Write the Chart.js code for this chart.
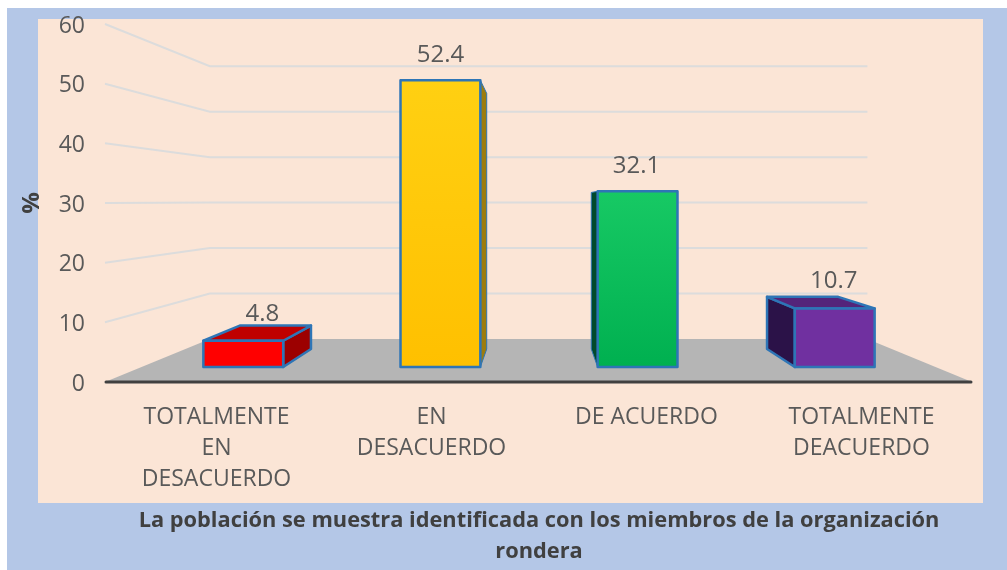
<!DOCTYPE html>
<html>
<head>
<meta charset="utf-8">
<style>
  html, body { margin: 0; padding: 0; background: #fff; }
  #wrap { width: 1007px; height: 570px; }
</style>
</head>
<body>
<div id="wrap"><canvas id="chart" width="1007" height="570"></canvas></div>
<script src="https://cdn.jsdelivr.net/npm/chart.js@4"></script>
<script>
const categories = [['TOTALMENTE', 'EN', 'DESACUERDO'], ['EN', 'DESACUERDO'], 'DE ACUERDO', ['TOTALMENTE', 'DEACUERDO']];
const values = [4.8, 52.4, 32.1, 10.7];
const valueText = ['4.8', '52.4', '32.1', '10.7'];
const yMax = 60;
const yStep = 10;
const yTitle = '%';
const caption = ['La población se muestra identificada con los miembros de la organización', 'rondera'];

// face colours per bar
const frontTop = ['#ff0000', '#ffd012', '#17c964', '#7030a0'];
const frontBottom = ['#ff0000', '#ffc000', '#00b050', '#7030a0'];
const sideColors = ['#9c0000', '#9c7c0e', '#004a2c', '#2b1248'];
const topColors = ['#bf0000', '#bf9000', '#00843c', '#54247a'];
const sideBorder = [2.5, 1, 1, 2.5];
const labelNudge = [[19, -1], [0, 1], [-1, 1], [-1, -1]];

// perspective of the fake 3D box
const RISE = 43;      // floor height on screen, front to back
const SHRINK = 0.238; // how much things shrink at the back wall
const BAR_NEAR = 0.349;
const BAR_FAR = 0.767;

const box3d = {
    id: 'box3d',
    beforeDraw(chart) {
        const c = chart.ctx;
        c.save();
        c.fillStyle = '#fff';
        c.fillRect(0, 0, 1007, 570);
        c.fillStyle = '#b4c7e7';
        c.fillRect(7, 8, 1000, 562);
        c.fillStyle = '#fbe5d6';
        c.fillRect(38, 19, 945, 484);
        c.restore();
    },
    beforeDatasetsDraw(chart) {
        const c = chart.ctx, area = chart.chartArea, y = chart.scales.y;
        const cx = (area.left + area.right) / 2;
        const y0 = y.getPixelForValue(0);
        const px = (x, t) => cx + (x - cx) * (1 - SHRINK * t);
        const py = (v, t) => y0 - RISE * t - (y0 - y.getPixelForValue(v)) * (1 - SHRINK * t);

        // walls
        c.save();
        c.strokeStyle = '#dcdcdc';
        c.lineWidth = 2;
        y.ticks.forEach(function (tick) {
            if (tick.value === 0) return;
            c.beginPath();
            c.moveTo(area.left - 4, y.getPixelForValue(tick.value));
            c.lineTo(px(area.left - 2, 1), py(tick.value, 1));
            c.lineTo(px(area.right + 1, 1), py(tick.value, 1));
            c.stroke();
        });

        // floor
        c.fillStyle = '#b5b5b5';
        c.beginPath();
        c.moveTo(area.left - 4, y0);
        c.lineTo(px(area.left - 2, 1), py(0, 1));
        c.lineTo(px(area.right + 1, 1), py(0, 1));
        c.lineTo(area.right + 3, y0);
        c.closePath();
        c.fill();

        // axis line
        c.strokeStyle = '#404040';
        c.lineWidth = 3;
        c.lineCap = 'round';
        c.beginPath();
        c.moveTo(area.left - 3, y0);
        c.lineTo(area.right + 2, y0);
        c.stroke();
        c.restore();
    },
    afterDatasetsDraw(chart) {
        const c = chart.ctx, area = chart.chartArea, y = chart.scales.y;
        const cx = (area.left + area.right) / 2;
        const y0 = y.getPixelForValue(0);
        const px = (x, t) => cx + (x - cx) * (1 - SHRINK * t);
        const py = (yPix, t) => y0 - RISE * t - (y0 - yPix) * (1 - SHRINK * t);

        function face(points, fill, width) {
            c.beginPath();
            points.forEach(function (p, i) {
                if (i === 0) c.moveTo(p[0], p[1]);
                else c.lineTo(p[0], p[1]);
            });
            c.closePath();
            c.fillStyle = fill;
            c.fill();
            c.lineWidth = width;
            c.stroke();
        }

        c.save();
        c.strokeStyle = '#2e75b6';
        c.lineJoin = 'round';
        chart.getDatasetMeta(0).data.forEach(function (bar, i) {
            const l = bar.x - bar.width / 2, r = bar.x + bar.width / 2, h = bar.y;

            const nl = px(l, BAR_NEAR), nr = px(r, BAR_NEAR);
            const fl = px(l, BAR_FAR), fr = px(r, BAR_FAR);
            const nTop = py(h, BAR_NEAR), nBase = py(y0, BAR_NEAR);
            const fTop = py(h, BAR_FAR), fBase = py(y0, BAR_FAR);

            // side that faces the vanishing point
            if (bar.x < cx) {
                face([[nr, nTop], [fr, fTop], [fr, fBase], [nr, nBase]], sideColors[i], sideBorder[i]);
            } else {
                face([[nl, nTop], [fl, fTop], [fl, fBase], [nl, nBase]], sideColors[i], sideBorder[i]);
            }
            // top shows only when the back edge is above the front one
            if (fTop < nTop) {
                face([[nl, nTop], [fl, fTop], [fr, fTop], [nr, nTop]], topColors[i], 2.5);
            }
            const grad = c.createLinearGradient(0, nTop, 0, nBase);
            grad.addColorStop(0, frontTop[i]);
            grad.addColorStop(1, frontBottom[i]);
            face([[nl, nTop], [nr, nTop], [nr, nBase], [nl, nBase]], grad, 2.5);

            // value label
            c.fillStyle = '#595959';
            c.font = '24px "Open Sans"';
            c.textAlign = 'center';
            c.textBaseline = 'middle';
            c.fillText(valueText[i], px(bar.x, BAR_NEAR) + labelNudge[i][0], nTop - 26 + labelNudge[i][1]);
        });
        c.restore();
    }
};

new Chart(document.getElementById('chart').getContext('2d'), {
    type: 'bar',
    data: {
        labels: categories,
        datasets: [{
            data: values,
            backgroundColor: 'transparent',
            borderWidth: 0,
            barPercentage: 1,
            categoryPercentage: 0.405
        }]
    },
    plugins: [box3d],
    options: {
        responsive: false,
        animation: false,
        layout: { padding: { top: 24, right: 38, left: 0, bottom: 0 } },
        plugins: {
            legend: { display: false },
            tooltip: { enabled: false },
            title: {
                display: true,
                text: caption,
                position: 'bottom',
                fullSize: false,
                color: '#404040',
                font: { family: 'Open Sans', size: 21.8, weight: 'bold', lineHeight: '31px' },
                padding: { top: 0, bottom: 3 }
            }
        },
        scales: {
            x: {
                grid: { display: false },
                border: { display: false },
                afterFit: function (scale) {
                    scale.height = 123;
                    scale.paddingLeft = 0;
                    scale.paddingRight = 0;
                },
                ticks: {
                    color: '#595959',
                    font: { family: 'Open Sans', size: 23, lineHeight: '31px' },
                    padding: 12,
                    maxRotation: 0,
                    autoSkip: false
                }
            },
            y: {
                min: 0,
                max: yMax,
                grid: { display: false },
                border: { display: false },
                afterFit: function (scale) {
                    scale.width = 109;
                    scale.paddingTop = 0;
                    scale.paddingBottom = 0;
                },
                title: {
                    display: true,
                    text: yTitle,
                    color: '#404040',
                    font: { family: 'Open Sans', size: 24, weight: 'bold' },
                    padding: { top: 18, bottom: 0 }
                },
                ticks: {
                    stepSize: yStep,
                    color: '#595959',
                    font: { family: 'Open Sans', size: 23 },
                    padding: 16,
                    labelOffset: 2
                }
            }
        }
    }
});
</script>
</body>
</html>
